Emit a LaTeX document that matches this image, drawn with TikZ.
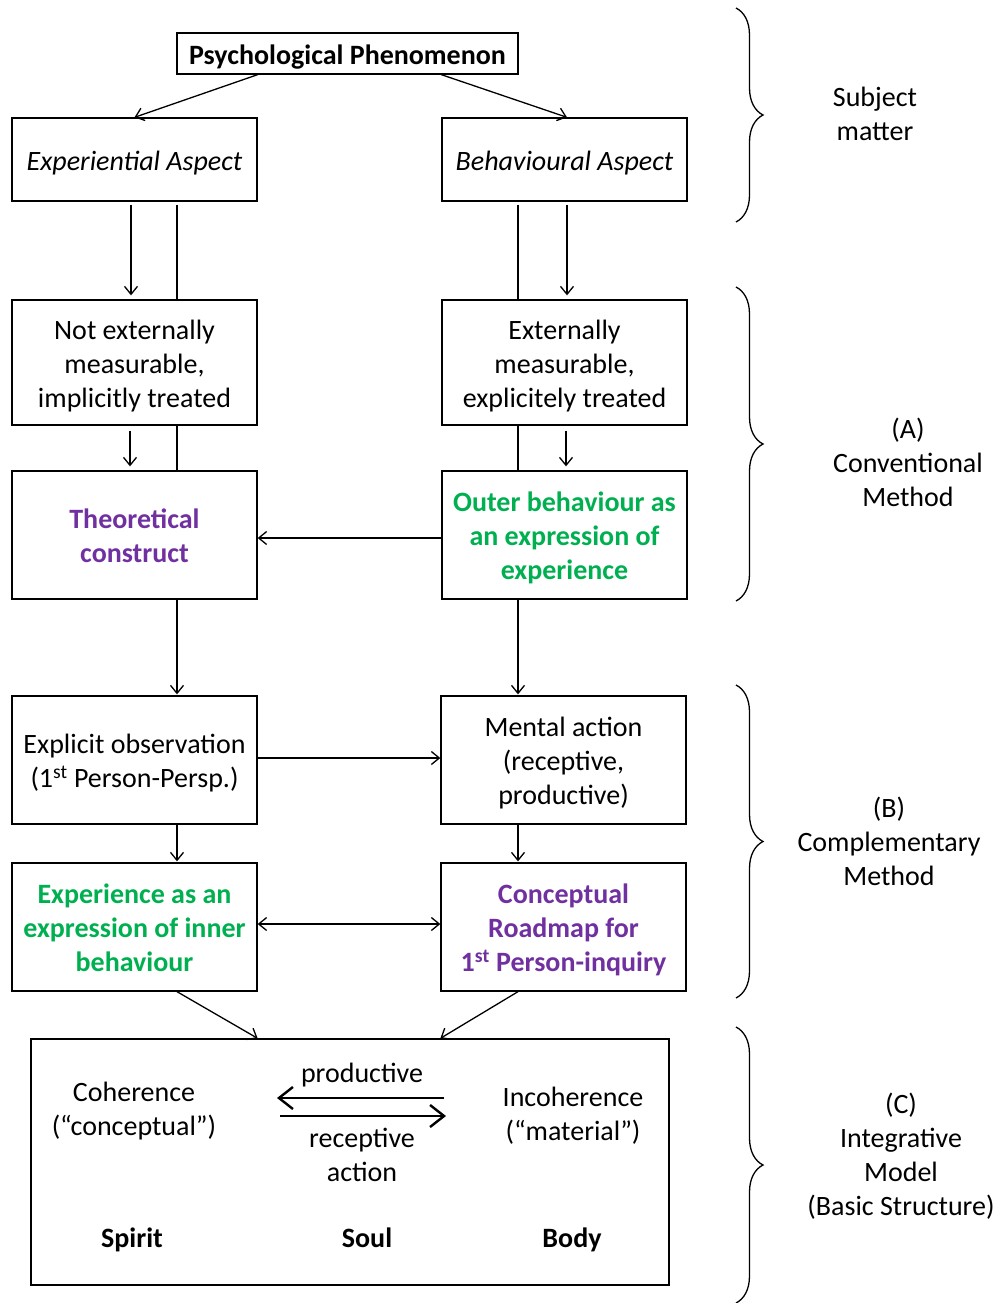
\documentclass[tikz,border=0pt]{standalone}
\usepackage{fontspec}
\setmainfont{Carlito}
\usetikzlibrary{arrows.meta,calc,decorations.pathreplacing}
\definecolor{cpurple}{HTML}{7030A0}
\definecolor{cgreen}{HTML}{00B050}
\newcommand\myfs{\fontsize{28}{34}\selectfont}
\newcommand\mystrut{\rule[-7.3pt]{0pt}{35.8pt}}
\begin{document}
\begin{tikzpicture}[x=1pt,y=-1pt,
  box/.style={draw,line width=1.3pt,minimum width=245pt,minimum height=128pt,align=center,inner sep=0pt,font=\myfs,
    execute at end node=\mystrut},
  txt/.style={align=center,inner sep=0pt,font=\myfs,
    execute at end node=\mystrut},
  arr/.style={line width=1.3pt,-{Straight Barb[length=8pt,width=13pt,line width=1.3pt]}},
  darr/.style={line width=1.3pt,{Straight Barb[length=8pt,width=13pt,line width=1.3pt]}-{Straight Barb[length=8pt,width=13pt,line width=1.3pt]}},
  plain/.style={line width=1.3pt},
  bigarr/.style={line width=2.4pt,-{Straight Barb[length=14pt,width=22pt,line width=2.4pt]}},
  brc/.style={line width=1.3pt,decorate,decoration={brace,amplitude=27pt}},
  purp/.style={text=cpurple,font=\myfs\bfseries},
  grn/.style={text=cgreen,font=\myfs\bfseries}]
\useasboundingbox (0,0) rectangle (997,1303);

% boxes
\node[box,minimum width=341pt,minimum height=41pt,font=\myfs\bfseries] (pp) at (347.5,53.5) {\mystrut Psychological Phenomenon};
\node[box,minimum height=83pt,font=\myfs\itshape] (exp) at (134.5,159.5) {\mystrut Experiential Aspect};
\node[box,minimum height=83pt,font=\myfs\itshape] (beh) at (564.5,159.5) {\mystrut Behavioural Aspect};
\node[box,minimum height=125pt] (nem) at (134.5,362.5) {\mystrut Not externally\\measurable,\\implicitly treated};
\node[box,minimum height=125pt] (em) at (564.5,362.5) {\mystrut Externally\\measurable,\\explicitely treated};
\node[box,purp] (theo) at (134.5,535) {\mystrut Theoretical\\construct};
\node[box,grn] (outer) at (564.5,535) {\mystrut Outer behaviour as\\an expression of\\experience};
\node[box] (obs) at (134.5,760) {\mystrut Explicit observation\\(1\textsuperscript{st} Person-Persp.)};
\node[box] (ment) at (563.5,760) {\mystrut Mental action\\(receptive,\\productive)};
\node[box,grn] (expr) at (134.5,927) {\mystrut Experience as an\\expression of inner\\behaviour};
\node[box,purp] (road) at (563.5,927) {\mystrut Conceptual\\Roadmap for\\1\textsuperscript{st} Person-inquiry};
\node[box,minimum width=638pt,minimum height=246pt] (big) at (350,1162) {};

% connectors
\draw[arr] (pp.south -| exp.east) -- (exp.north);
\draw[arr] (pp.south -| beh.west) -- ($(beh.north)+(2.5,0)$);
\draw[arr] ($(exp.south)+(-3.5,3)$) -- ($(nem.north)+(-3.5,-4)$);
\draw[plain] ($(exp.south)+(42.5,3)$) -- ($(nem.north)+(42.5,0)$);
\draw[plain] ($(beh.south)+(-46.5,3)$) -- ($(em.north)+(-46.5,0)$);
\draw[arr] ($(beh.south)+(2.5,3)$) -- ($(em.north)+(2.5,-4)$);
\draw[arr] ($(nem.south)+(-4.5,5)$) -- ($(theo.north)+(-4.5,-4)$);
\draw[plain] ($(nem.south)+(42.5,0)$) -- ($(theo.north)+(42.5,0)$);
\draw[plain] ($(em.south)+(-46.5,0)$) -- ($(outer.north)+(-46.5,0)$);
\draw[arr] ($(em.south)+(1.5,5)$) -- ($(outer.north)+(1.5,-4)$);
\draw[arr] ($(outer.west)+(0,3)$) -- ($(theo.east)+(0,3)$);
\draw[arr] ($(theo.south)+(42.5,0)$) -- ($(obs.north)+(42.5,-1)$);
\draw[arr] ($(outer.south)+(-46.5,0)$) -- ($(ment.north)+(-45.5,-1)$);
\draw[arr] ($(obs.east)+(0,-2)$) -- ($(ment.west)+(0,-2)$);
\draw[arr] ($(obs.south)+(42.5,0)$) -- ($(expr.north)+(42.5,-1)$);
\draw[arr] ($(ment.south)+(-45.5,0)$) -- ($(road.north)+(-45.5,-1)$);
\draw[darr] ($(expr.east)+(0,-3)$) -- ($(road.west)+(0,-3)$);
\draw[arr] ($(expr.south)+(42.5,0)$) -- (big.north -| expr.east);
\draw[arr] ($(road.south)+(-45.5,0)$) -- (big.north -| road.west);

% inside integrative model
\node[txt] (coh) at (134,1108) {\mystrut Coherence\\(“conceptual”)};
\node[txt] (prod) at (362,1072) {\mystrut productive};
\node[txt] (rec) at (362,1153.5) {\mystrut receptive\\action};
\node[txt] (inc) at (573,1113) {\mystrut Incoherence\\(“material”)};
\node[txt,font=\myfs\bfseries] (spirit) at (132,1237) {\mystrut Spirit};
\node[txt,font=\myfs\bfseries] (soul) at (367,1237) {\mystrut Soul};
\node[txt,font=\myfs\bfseries] (body) at (572,1237) {\mystrut Body};
\coordinate (pa) at (444,1098);
\coordinate (pb) at (277,1098);
\coordinate (ra) at (280,1116);
\coordinate (rb) at (446,1116);
\draw[bigarr] (pa) -- (pb);
\draw[bigarr] (ra) -- (rb);

% braces and labels
\draw[brc] (736,8) -- (736,222);
\draw[brc] (736,287) -- (736,601);
\draw[brc] (736,685) -- (736,998);
\draw[brc] (736,1027) -- (736,1303);
\node[txt] (l0) at (875,113) {\mystrut Subject\\matter};
\node[txt] (la) at (908,462) {\mystrut (A)\\Conventional\\Method};
\node[txt] (lb) at (889,841) {\mystrut (B)\\Complementary\\Method};
\node[txt] (lc) at (901,1153.5) {\mystrut (C)\\Integrative\\Model\\(Basic Structure)};
\end{tikzpicture}
\end{document}
